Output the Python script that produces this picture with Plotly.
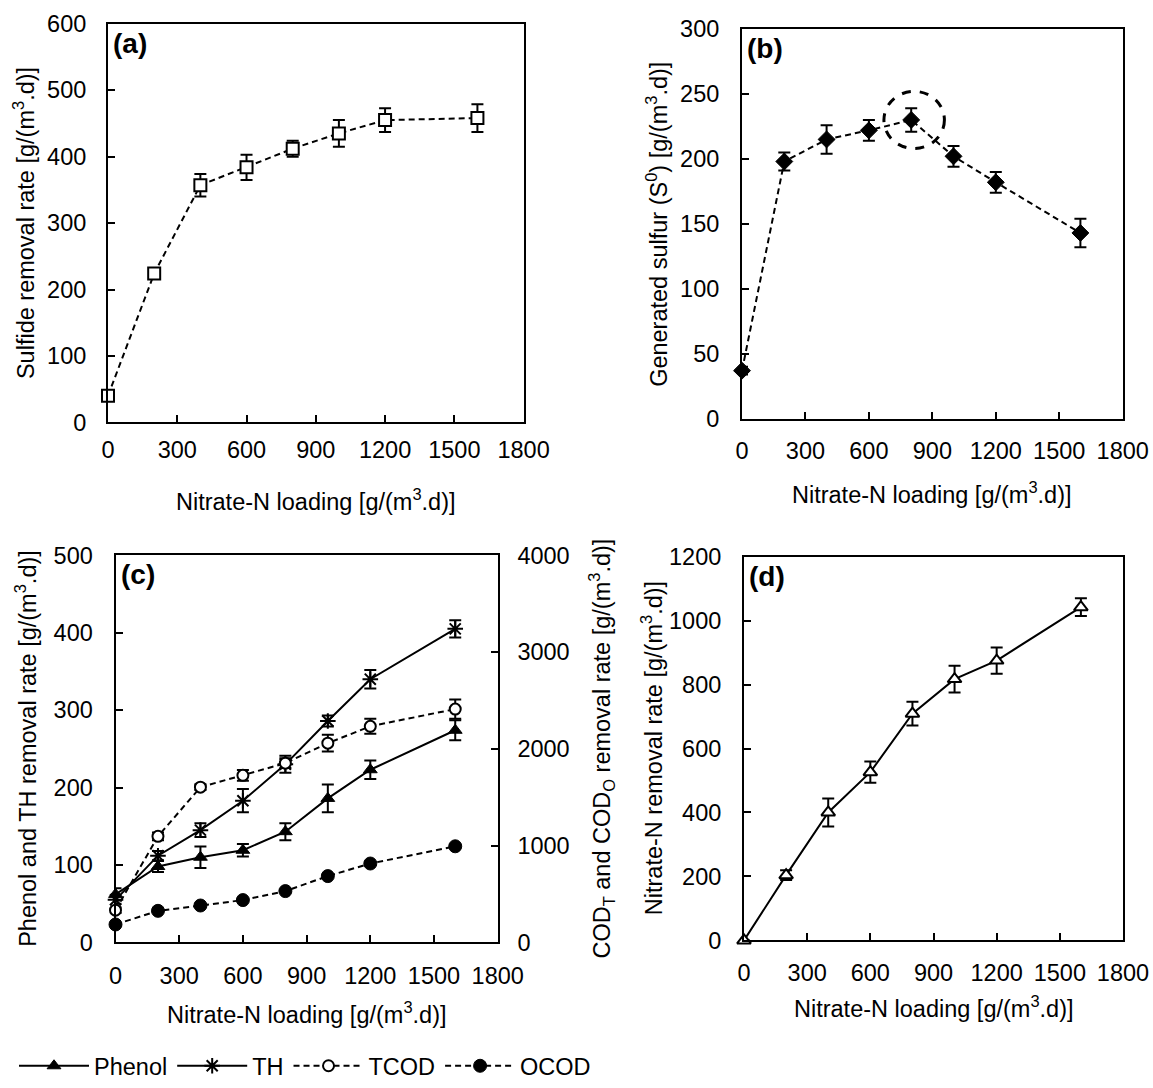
import plotly.graph_objects as go

# ---------------- data ----------------
loading = [0, 200, 400, 600, 800, 1000, 1200, 1600]
x_ticks = [0, 300, 600, 900, 1200, 1500, 1800]

sulfide = [40, 224, 357, 384, 412, 435, 455, 458]
sulfide_err = [4, 8, 17, 19, 12, 20, 18, 21]

sulfur = [37, 198, 215, 222, 230, 202, 182, 143]
sulfur_err = [3, 7, 11, 8, 9, 8, 8, 11]

phenol = [62, 98, 110, 119, 143, 186, 223, 274]
phenol_err = [8, 7, 14, 8, 11, 18, 12, 13]
th = [55, 112, 145, 183, 230, 286, 340, 405]
th_err = [5, 6, 9, 15, 11, 7, 12, 11]
tcod = [333, 1096, 1604, 1726, 1852, 2059, 2233, 2411]
tcod_err = [30, 40, 30, 55, 50, 87, 78, 100]
ocod = [185, 326, 381, 437, 530, 685, 815, 993]
ocod_err = [15, 15, 15, 15, 15, 15, 15, 15]

nitrate = [0, 204, 400, 526, 709, 817, 875, 1042]
nitrate_err = [0, 15, 44, 33, 37, 42, 41, 28]

highlight_x = [671, 957]
highlight_y = [208, 252]

W, H = 1153, 1088
FONT = "Liberation Sans, Arial, sans-serif"
FS = 23.5

def px(v):
    return v / W

def py(v):
    return 1 - v / H

# panel boxes in page pixels: left, right, top, bottom
boxes = {
    "a": (108, 523.6, 24, 426.7),
    "b": (742, 1122.7, 29.3, 423),
    "c": (115.5, 497.7, 561, 952),
    "d": (744, 1123, 562.3, 950),
}

fig = go.Figure()

def err(vals):
    return dict(type="data", array=vals, visible=True, color="black",
                thickness=2, width=6)

dash = "6px,4px"

# (a)
fig.add_trace(go.Scatter(
    x=loading, y=sulfide, mode="lines+markers", xaxis="x", yaxis="y",
    line=dict(color="black", width=2, dash=dash),
    marker=dict(symbol="square", size=12, color="white",
                line=dict(color="black", width=2)),
    error_y=err(sulfide_err), showlegend=False, cliponaxis=False))

# (b)
fig.add_trace(go.Scatter(
    x=loading, y=sulfur, mode="lines+markers", xaxis="x2", yaxis="y2",
    line=dict(color="black", width=2, dash=dash),
    marker=dict(symbol="diamond", size=13, color="black",
                line=dict(color="black", width=1)),
    error_y=err(sulfur_err), showlegend=False, cliponaxis=False))

# (c)
fig.add_trace(go.Scatter(
    x=loading, y=phenol, mode="lines+markers", xaxis="x3", yaxis="y3",
    name="Phenol",
    line=dict(color="black", width=2),
    marker=dict(symbol="triangle-up", size=12, color="black",
                line=dict(color="black", width=1)),
    error_y=err(phenol_err), cliponaxis=False))
fig.add_trace(go.Scatter(
    x=loading, y=th, mode="lines+markers", xaxis="x3", yaxis="y3",
    name="TH",
    line=dict(color="black", width=2),
    marker=dict(symbol="asterisk-open", size=13, color="black",
                line=dict(color="black", width=2)),
    error_y=err(th_err), cliponaxis=False))
fig.add_trace(go.Scatter(
    x=loading, y=tcod, mode="lines+markers", xaxis="x3", yaxis="y4",
    name="TCOD",
    line=dict(color="black", width=2, dash=dash),
    marker=dict(symbol="circle", size=11, color="white",
                line=dict(color="black", width=2)),
    error_y=err(tcod_err), cliponaxis=False))
fig.add_trace(go.Scatter(
    x=loading, y=ocod, mode="lines+markers", xaxis="x3", yaxis="y4",
    name="OCOD",
    line=dict(color="black", width=2, dash=dash),
    marker=dict(symbol="circle", size=13, color="black",
                line=dict(color="black", width=1)),
    error_y=err(ocod_err), cliponaxis=False))

# (d)
fig.add_trace(go.Scatter(
    x=loading, y=nitrate, mode="lines+markers", xaxis="x4", yaxis="y5",
    line=dict(color="black", width=2),
    marker=dict(symbol="triangle-up", size=12, color="white",
                line=dict(color="black", width=2)),
    error_y=err(nitrate_err), showlegend=False, cliponaxis=False))

def axis_common(**kw):
    d = dict(showline=True, linecolor="black", linewidth=2, mirror=True,
             ticks="inside", ticklen=7, tickwidth=1.5, tickcolor="black",
             showgrid=False, zeroline=False, automargin=False,
             tickfont=dict(family=FONT, size=FS, color="black"))
    d.update(kw)
    return d

def xdom(k):
    l, r, t, b = boxes[k]
    return [px(l), px(r)]

def ydom(k):
    l, r, t, b = boxes[k]
    return [py(b), py(t)]

def xax(k, anchor, standoff):
    return axis_common(domain=xdom(k), anchor=anchor, range=[0, 1800],
                       tickvals=x_ticks, ticklabelstandoff=standoff)

fig.update_layout(
    width=W, height=H,
    margin=dict(l=0, r=0, t=0, b=0),
    paper_bgcolor="white", plot_bgcolor="white",
    font=dict(family=FONT, size=FS, color="black"),
    xaxis=xax("a", "y", 5),
    yaxis=axis_common(domain=ydom("a"), anchor="x", range=[0, 600], dtick=100,
                      ticklabelstandoff=15),
    xaxis2=xax("b", "y2", 10),
    yaxis2=axis_common(domain=ydom("b"), anchor="x2", range=[0, 300], dtick=50,
                       ticklabelstandoff=16),
    xaxis3=xax("c", "y3", 11),
    yaxis3=axis_common(domain=ydom("c"), anchor="x3", range=[0, 500], dtick=100,
                       ticklabelstandoff=16),
    yaxis4=axis_common(overlaying="y3", side="right", anchor="x3",
                       range=[0, 4000], dtick=1000, ticklabelstandoff=13,
                       mirror=False),
    xaxis4=xax("d", "y5", 10),
    yaxis5=axis_common(domain=ydom("d"), anchor="x4", range=[0, 1200], dtick=200,
                       ticklabelstandoff=16),
    legend=dict(orientation="h", x=px(14), y=py(1077), xanchor="left",
                yanchor="middle", font=dict(family=FONT, size=FS),
                bgcolor="rgba(0,0,0,0)", itemwidth=70, tracegroupgap=0),
    shapes=[dict(type="circle", xref="x2", yref="y2",
                 x0=highlight_x[0], x1=highlight_x[1],
                 y0=highlight_y[0], y1=highlight_y[1],
                 line=dict(color="black", width=3, dash="dash"))],
)

ann = []
xtitle = "Nitrate-N loading [g/(m<sup>3</sup>.d)]"
# x titles: (panel, centre y px)
for k, yc in [("a", 505), ("b", 498), ("c", 1023), ("d", 1017)]:
    l, r, t, b = boxes[k]
    ann.append(dict(text=xtitle, x=px((l + r) / 2), y=py(yc), xref="paper",
                    yref="paper", showarrow=False, xanchor="center",
                    yanchor="middle", font=dict(size=FS)))
# y titles: (panel, text, centre x px)
ytitles = [
    ("a", "Sulfide removal rate [g/(m<sup>3</sup>.d)]", 24),
    ("b", "Generated sulfur (S<sup>0</sup>) [g/(m<sup>3</sup>.d)]", 657),
    ("c", "Phenol and TH removal rate [g/(m<sup>3</sup>.d)]", 26),
    ("c", "COD<sub>T</sub> and COD<sub>O</sub> removal rate [g/(m<sup>3</sup>.d)]", 601.7),
    ("d", "Nitrate-N removal rate [g/(m<sup>3</sup>.d)]", 651.7),
]
for k, txt, xc in ytitles:
    l, r, t, b = boxes[k]
    ann.append(dict(text=txt, x=px(xc), y=py((t + b) / 2), xref="paper",
                    yref="paper", showarrow=False, xanchor="center",
                    yanchor="middle", textangle=-90, font=dict(size=FS)))
# panel labels
for k, lab in [("a", "(a)"), ("b", "(b)"), ("c", "(c)"), ("d", "(d)")]:
    l, r, t, b = boxes[k]
    ann.append(dict(text="<b>" + lab + "</b>", x=px(l + 3), y=py(t + 2),
                    xref="paper", yref="paper", showarrow=False,
                    xanchor="left", yanchor="top", font=dict(size=28)))
fig.update_layout(annotations=ann)

# remove the browser's default 8px body margin so the figure fills the window
fig.write_html("out.html",
               config={"displayModeBar": False},
               post_script="document.body.style.margin='0px';"
                           "document.body.style.overflow='hidden';")
